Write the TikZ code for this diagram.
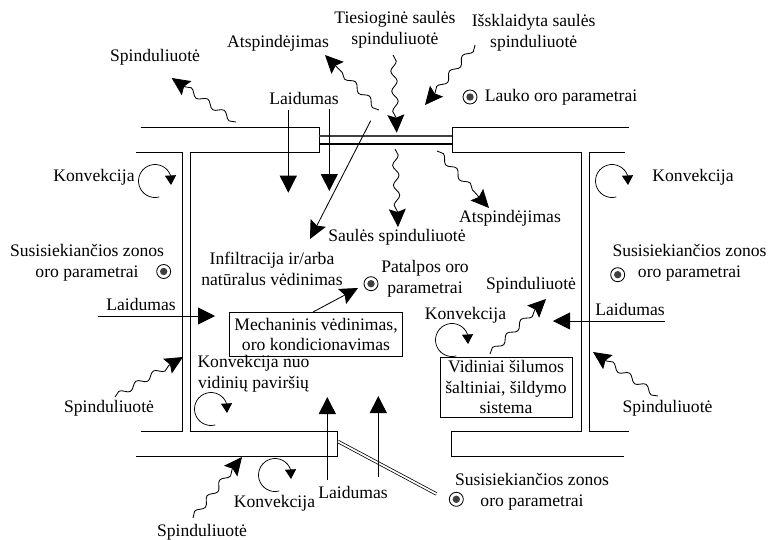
\documentclass[tikz,border=0pt]{standalone}
\usepackage{fontspec}
\setmainfont{Liberation Serif}
\usetikzlibrary{arrows.meta,decorations.pathmorphing}

\begin{document}
\begin{tikzpicture}[x=1pt,y=-1pt,line width=0.85pt,
    lbl/.style={inner sep=0pt,align=center,font=\fontsize{17.6}{20.6}\selectfont},
    boxlbl/.style={lbl,draw,inner sep=0pt},
    wave/.style={decorate,decoration={snake,amplitude=3pt,segment length=20pt,post length=15pt},-{Stealth[length=18pt,width=17pt,inset=3pt]}},
    solid arrow/.style={-{Triangle[length=17pt,width=17pt]}},
    slant arrow/.style={-{Stealth[length=18pt,width=17pt,inset=3pt]}},
    curl/.style={line width=0.75pt,-{Triangle[length=9.5pt,width=11pt]}},
    probe/.style={circle,draw,minimum size=14pt,inner sep=0pt,path picture={\fill[black!75] (path picture bounding box.center) circle (3.7pt);}}]
    \useasboundingbox (0,0) rectangle (770,539);

    % Walls
    \draw (140.5,127.7) -- (319,127.7) -- (319,152.5) -- (190.8,152.5) -- (190.8,431) -- (337.3,431) -- (337.3,456) -- (136,456);
    \draw (136,152.5) -- (182.7,152.5) -- (182.7,431) -- (140.5,431);
    \draw (629,127.7) -- (452.3,127.7) -- (452.3,152.3) -- (581.7,152.3) -- (581.7,431) -- (451.7,431) -- (451.7,456) -- (624,456);
    \draw (625,152.3) -- (589.3,152.3) -- (589.3,431) -- (629,431);

    % Window and door
    \draw[line width=1.6pt,black!75] (319,135.7) -- (452.3,135.7);
    \draw[line width=1.6pt] (319,143.7) -- (452.3,143.7);
    \draw[double,double distance=1.8pt,line width=0.75pt] (338,441.5) -- (436.5,494);

    % Conduction
    \draw[solid arrow] (288.3,110) -- (288.3,192.7);
    \draw[solid arrow] (329.3,109) -- (329.3,191);
    \draw[solid arrow] (98,316) -- (215,316);
    \draw[solid arrow] (665,321) -- (553,321);
    \draw[solid arrow] (327.3,480) -- (327.3,397);
    \draw[solid arrow] (378.3,477) -- (378.3,396);

    % Ventilation
    \draw[slant arrow] (370.7,120.7) -- (310,239);
    \draw[slant arrow] (313,312) -- (358,288);

    % Radiation
    \draw[wave] (236,122) -- (171.7,78);
    \draw[wave] (379,110) -- (325,55);
    \draw[wave] (393,55) -- (396.7,132.7);
    \draw[wave] (475,45) -- (425,105);
    \draw[wave] (395,149) -- (398,227);
    \draw[wave] (437,151) -- (489,208);
    \draw[wave] (490,354) -- (546,299);
    \draw[wave] (658,396) -- (593,352);
    \draw[wave] (115,397) -- (183,357);
    \draw[wave] (193,518) -- (242,457);

    % Convection
    \draw[curl] (155,181) ++(285:16.5pt) arc[start angle=285,end angle=20,radius=16.5pt] -- ++(0.5,9.6);
    \draw[curl] (612,181) ++(285:16.5pt) arc[start angle=285,end angle=20,radius=16.5pt] -- ++(0.5,9.6);
    \draw[curl] (452,340) ++(285:16.5pt) arc[start angle=285,end angle=20,radius=16.5pt] -- ++(0.5,9.6);
    \draw[curl] (211,409) ++(285:16.5pt) arc[start angle=285,end angle=20,radius=16.5pt] -- ++(0.5,9.6);
    \draw[curl] (275,475) ++(285:16.5pt) arc[start angle=285,end angle=20,radius=16.5pt] -- ++(0.5,9.6);

    % Air parameters
    \node[probe] (probeLeft) at (163.7,271.5) {};
    \node[probe] (probeOut) at (470,97) {};
    \node[probe] (probeRoom) at (371,283.7) {};
    \node[probe] (probeRight) at (617.7,274.7) {};
    \node[probe] (probeBottom) at (456.3,499.3) {};

    % Labels
    \node[lbl] (radTop) at (155,57) {Spinduliuotė};
    \node[lbl] (reflTop) at (278,43) {Atspindėjimas};
    \node[lbl] (direct) at (395,30) {Tiesioginė saulės\\spinduliuotė};
    \node[lbl] (diffuse) at (533.7,33) {Išsklaidyta saulės\\spinduliuotė};
    \node[lbl] (outAir) at (561,97) {Lauko oro parametrai};
    \node[lbl] (condTop) at (304,98) {Laidumas};
    \node[lbl] (convLeft) at (94,177) {Konvekcija};
    \node[lbl] (zoneLeft) at (87,263) {Susisiekiančios zonos\\oro parametrai};
    \node[lbl] (condLeft) at (141,304) {Laidumas};
    \node[lbl] (infil) at (272,269) {Infiltracija ir/arba\\natūralus vėdinimas};
    \node[lbl] (convWall) at (253.5,374) {Konvekcija nuo\\vidinių paviršių};
    \node[lbl] (sun) at (397,237) {Saulės spinduliuotė};
    \node[lbl] (reflIn) at (510,218) {Atspindėjimas};
    \node[lbl] (roomAir) at (425,279) {Patalpos oro\\parametrai};
    \node[lbl] (radIn) at (531,285) {Spinduliuotė};
    \node[lbl] (convIn) at (465.5,315) {Konvekcija};
    \node[lbl] (condRight) at (630,309) {Laidumas};
    \node[lbl] (convRight) at (693,177) {Konvekcija};
    \node[lbl] (zoneRight) at (689.5,263) {Susisiekiančios zonos\\oro parametrai};
    \node[lbl] (radRight) at (667.5,408) {Spinduliuotė};
    \node[lbl] (radLeft) at (109,408) {Spinduliuotė};
    \node[lbl] (convBottom) at (274.5,503) {Konvekcija};
    \node[lbl] (condBottom) at (353,492) {Laidumas};
    \node[lbl] (radBottom) at (202,532) {Spinduliuotė};
    \node[lbl] (zoneBottom) at (532,492) {Susisiekiančios zonos\\oro parametrai};

    % Boxes
    \node[boxlbl,minimum width=173.4pt,minimum height=43.3pt] (mech) at (316,334.3) {Mechaninis vėdinimas,\\oro kondicionavimas};
    \node[boxlbl,minimum width=132pt,minimum height=60.7pt] (inner) at (506,387.3) {Vidiniai šilumos\\šaltiniai, šildymo\\sistema};
\end{tikzpicture}
\end{document}
